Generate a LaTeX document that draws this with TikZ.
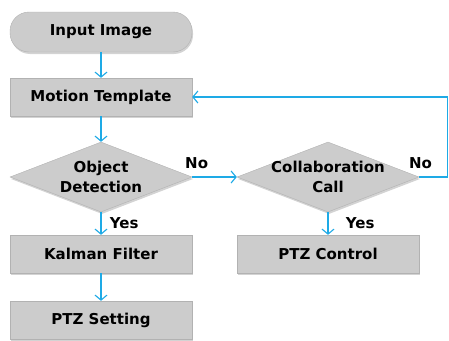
\documentclass[tikz,border=0pt]{standalone}
\usepackage{fontspec}
\setmainfont{DejaVu Sans}
\usetikzlibrary{shapes,shadows,arrows.meta}
\definecolor{flowblue}{RGB}{30,170,230}
\definecolor{boxgray}{RGB}{204,204,204}

\begin{document}
\begin{tikzpicture}[x=1pt, y=1pt,
node distance=65pt,
font=\bfseries\fontsize{15}{20}\selectfont,
flow/.style={color=flowblue, text=black, line width=1.1pt, -{Straight Barb[length=5pt, width=12pt]}},
block/.style={draw=gray!60, fill=boxgray, rectangle, minimum width=182pt, minimum height=38pt, drop shadow={opacity=0.35, shadow xshift=1pt, shadow yshift=-2pt}},
start/.style={block, rounded corners=19pt, minimum height=40pt},
decision/.style={block, diamond, minimum width=182pt, minimum height=70pt, inner sep=0pt}]

\useasboundingbox (0,0) rectangle (449,-340);

\node[start]		(in)	at (101,-32)		{Input Image};
\node[block]		(mt)[below of=in]		{Motion Template};
\node[decision, label={[align=center]center:Object\\Detection}]	(od)[below of=mt, yshift=-15pt]	{};
\node[block]		(kf)[below of=od, yshift=-12pt]		{Kalman Filter};
\node[block]		(ps)[below of=kf, yshift=-1pt]		{PTZ Setting};

\node[decision, label={[align=center]center:Collaboration\\Call}]	(cc)[right of=od, xshift=162pt]	{};
\node[block]		(pc)[below of=cc, yshift=-12pt]		{PTZ Control};

\coordinate (back) at ([xshift=28pt]cc.east);

\path[flow]
 (in) edge (mt)
 (mt) edge (od)
 (od) edge node[right, xshift=5pt]{Yes} (kf)
 (kf) edge (ps)
 (od) edge node[pos=0.1, above, yshift=4pt]{No} (cc)
 (cc) edge node[right, xshift=14pt]{Yes} (pc);

\draw[flow] (cc.east) -- node[pos=0.05, above, yshift=4pt]{No} (back) |- (mt.east);

\end{tikzpicture}
\end{document}
